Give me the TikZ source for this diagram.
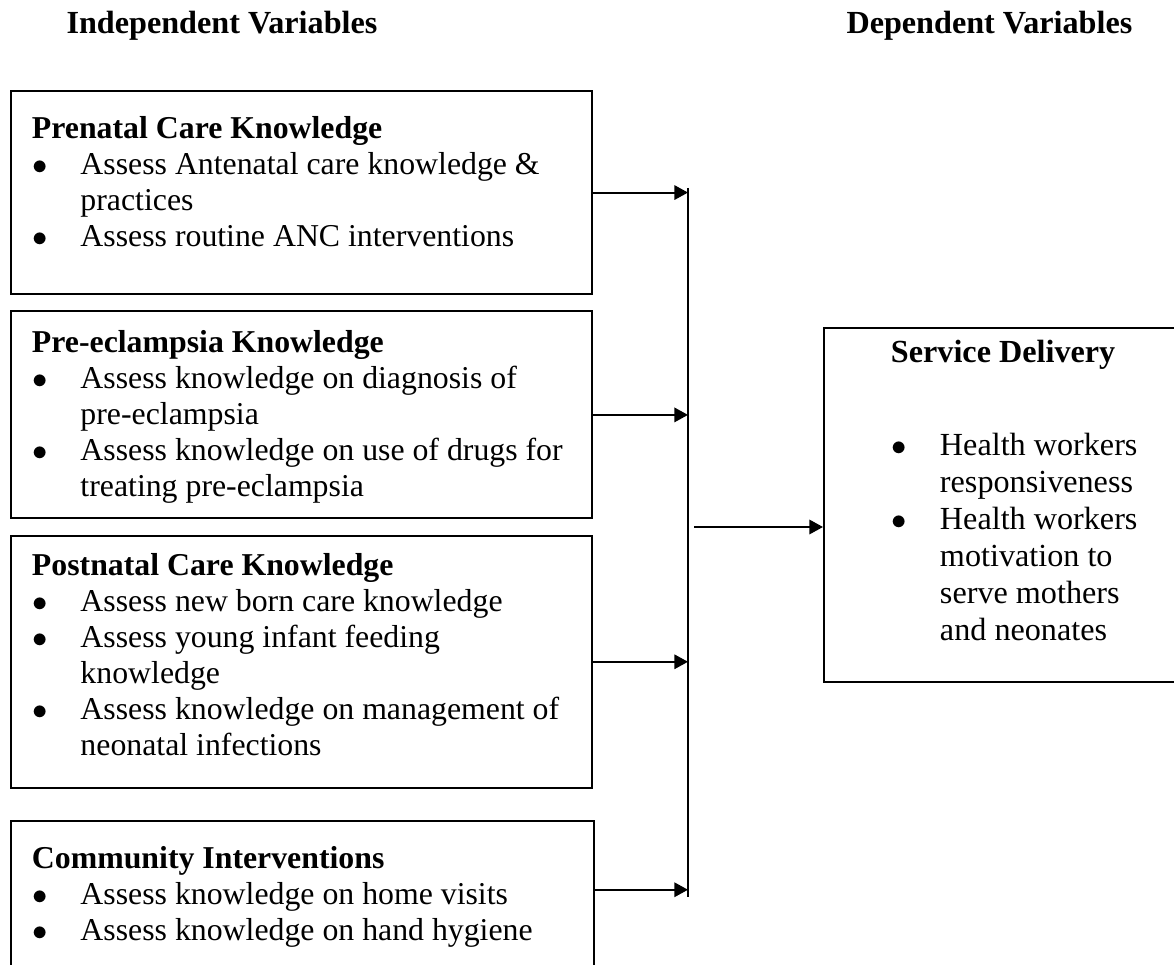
\documentclass[tikz,border=0pt]{standalone}
\usepackage{fontspec}
\setmainfont{Liberation Serif}
\usetikzlibrary{arrows.meta, positioning}

% bullet line and its follow-on line (optional arg = text indent)
\newcommand{\bul}[2][19pt]{\par\noindent\makebox[#1][l]{\hspace*{0.4pt}$\bullet$}\mbox{#2}}
\newcommand{\cont}[2][19pt]{\par\noindent\hspace*{#1}\mbox{#2}}

\begin{document}
\begin{tikzpicture}[x=0.3915pt, y=-0.3915pt,
    varbox/.style={draw, line width=0.8pt, inner xsep=8.2pt, inner ysep=0pt, anchor=north west,
      font=\fontsize{12.45}{14.1}\selectfont},
    head/.style={anchor=base west, inner sep=0pt, font=\fontsize{12.6}{14.1}\selectfont\bfseries},
    arr/.style={-{Triangle[length=5.3pt, width=5.6pt]}, line width=0.8pt}]
  \useasboundingbox (0,0) rectangle (1174,965);

  \node[head] (indep) at (66,34) {Independent Variables};
  \node[head] (dep) at (846,34) {Dependent Variables};

  \node[varbox] (prenatal) at (10,90) {\parbox[c][79.5pt][t]{211pt}{\vspace*{10pt}%
      \noindent\textbf{Prenatal Care Knowledge}
      \bul{Assess Antenatal care knowledge \&}
      \cont{practices}
      \bul{Assess routine ANC interventions}}};
  \node[varbox, below=6pt of prenatal.south west, anchor=north west] (preeclampsia)
    {\parbox[c][81pt][t]{211pt}{\vspace*{7.4pt}%
      \noindent\textbf{Pre-eclampsia Knowledge}
      \bul{Assess knowledge on diagnosis of}
      \cont{pre-eclampsia}
      \bul{Assess knowledge on use of drugs for}
      \cont{treating pre-eclampsia}}};
  \node[varbox, below=6pt of preeclampsia.south west, anchor=north west] (postnatal)
    {\parbox[c][98.7pt][t]{211pt}{\vspace*{7pt}%
      \noindent\textbf{Postnatal Care Knowledge}
      \bul{Assess new born care knowledge}
      \bul{Assess young infant feeding}
      \cont{knowledge}
      \bul{Assess knowledge on management of}
      \cont{neonatal infections}}};
  \node[varbox, below=12pt of postnatal.south west, anchor=north west] (community)
    {\parbox[c][62.6pt][t]{212pt}{\vspace*{10pt}%
      \noindent\textbf{Community Interventions}
      \bul{Assess knowledge on home visits}
      \bul{Assess knowledge on hand hygiene}}};

  \node[varbox, inner xsep=0pt, font=\fontsize{12.6}{14.5}\selectfont] (service) at (823,327)
    {\parbox[c][138.6pt][t]{143.7pt}{\leftskip=26.2pt\vspace*{4.6pt}%
      \noindent\textbf{Service Delivery}\par\vspace{22pt}
      \bul{\hspace*{0.2pt}Health workers}
      \cont[19.2pt]{responsiveness}
      \bul{\hspace*{0.2pt}Health workers}
      \cont[19.2pt]{motivation to}
      \cont[19.2pt]{serve mothers}
      \cont[19.2pt]{and neonates}}};

  \coordinate (bartop) at (688,188);
  \coordinate (barbot) at (688,897);
  \coordinate (c4) at ([yshift=-27.5pt]community.north east);
  \coordinate (join) at (694,527);

  \draw[line width=0.8pt] (bartop) -- (barbot);
  \path[arr]
    (prenatal) edge (prenatal.east -| bartop)
    (preeclampsia) edge (preeclampsia.east -| bartop)
    (postnatal) edge (postnatal.east -| bartop)
    (c4) edge (c4 -| bartop)
    (join) edge (join -| service.west);
\end{tikzpicture}
\end{document}
